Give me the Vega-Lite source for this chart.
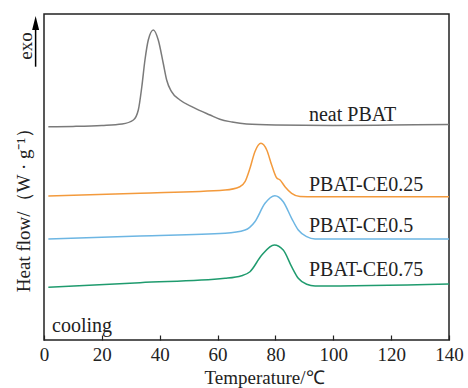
{
  "$schema": "https://vega.github.io/schema/vega-lite/v6.json",
  "width": 405,
  "height": 326,
  "autosize": "none",
  "padding": {"left": 44, "top": 14, "right": 19, "bottom": 48},
  "background": "white",
  "config": {
    "font": "Liberation Serif",
    "view": {"stroke": "#222", "strokeWidth": 1.5},
    "axis": {"grid": false, "labelFont": "Liberation Serif", "titleFont": "Liberation Serif", "labelColor": "#222", "titleColor": "#222", "titleFontWeight": "normal"}
  },
  "datasets": {
    "curves": [
      {"s": "neat PBAT", "t": 1.5, "v": 213.3},
      {"s": "neat PBAT", "t": 10, "v": 213.6},
      {"s": "neat PBAT", "t": 20, "v": 214.5},
      {"s": "neat PBAT", "t": 27, "v": 216},
      {"s": "neat PBAT", "t": 30.9, "v": 220},
      {"s": "neat PBAT", "t": 32.6, "v": 230},
      {"s": "neat PBAT", "t": 33.8, "v": 253},
      {"s": "neat PBAT", "t": 34.9, "v": 280},
      {"s": "neat PBAT", "t": 36.05, "v": 300},
      {"s": "neat PBAT", "t": 37.8, "v": 310},
      {"s": "neat PBAT", "t": 39.5, "v": 300},
      {"s": "neat PBAT", "t": 41.2, "v": 277},
      {"s": "neat PBAT", "t": 42.4, "v": 260},
      {"s": "neat PBAT", "t": 44.1, "v": 248.3},
      {"s": "neat PBAT", "t": 47, "v": 240},
      {"s": "neat PBAT", "t": 51.6, "v": 232.7},
      {"s": "neat PBAT", "t": 57.4, "v": 225},
      {"s": "neat PBAT", "t": 60.8, "v": 220.7},
      {"s": "neat PBAT", "t": 65, "v": 218},
      {"s": "neat PBAT", "t": 70, "v": 216},
      {"s": "neat PBAT", "t": 80, "v": 215},
      {"s": "neat PBAT", "t": 100, "v": 214.5},
      {"s": "neat PBAT", "t": 120, "v": 215},
      {"s": "neat PBAT", "t": 140, "v": 215.6},
      {"s": "PBAT-CE0.25", "t": 1.5, "v": 144},
      {"s": "PBAT-CE0.25", "t": 33.2, "v": 146.7},
      {"s": "PBAT-CE0.25", "t": 62.6, "v": 150},
      {"s": "PBAT-CE0.25", "t": 67.7, "v": 153.3},
      {"s": "PBAT-CE0.25", "t": 69.5, "v": 158.3},
      {"s": "PBAT-CE0.25", "t": 71.2, "v": 171.7},
      {"s": "PBAT-CE0.25", "t": 72.9, "v": 188.3},
      {"s": "PBAT-CE0.25", "t": 75.0, "v": 196.7},
      {"s": "PBAT-CE0.25", "t": 77.0, "v": 190},
      {"s": "PBAT-CE0.25", "t": 78.7, "v": 175},
      {"s": "PBAT-CE0.25", "t": 80.4, "v": 162.3},
      {"s": "PBAT-CE0.25", "t": 81.6, "v": 160},
      {"s": "PBAT-CE0.25", "t": 83.3, "v": 153.3},
      {"s": "PBAT-CE0.25", "t": 85.6, "v": 146.7},
      {"s": "PBAT-CE0.25", "t": 88.5, "v": 143.5},
      {"s": "PBAT-CE0.25", "t": 93.7, "v": 143.2},
      {"s": "PBAT-CE0.25", "t": 140, "v": 143.2},
      {"s": "PBAT-CE0.5", "t": 1.5, "v": 101},
      {"s": "PBAT-CE0.5", "t": 33.2, "v": 104},
      {"s": "PBAT-CE0.5", "t": 62.6, "v": 106.7},
      {"s": "PBAT-CE0.5", "t": 69.5, "v": 110},
      {"s": "PBAT-CE0.5", "t": 72.9, "v": 118.3},
      {"s": "PBAT-CE0.5", "t": 76.4, "v": 136.7},
      {"s": "PBAT-CE0.5", "t": 79.8, "v": 144.3},
      {"s": "PBAT-CE0.5", "t": 82.7, "v": 138.3},
      {"s": "PBAT-CE0.5", "t": 85.6, "v": 121.7},
      {"s": "PBAT-CE0.5", "t": 87.9, "v": 110},
      {"s": "PBAT-CE0.5", "t": 90.8, "v": 103.3},
      {"s": "PBAT-CE0.5", "t": 93.7, "v": 101},
      {"s": "PBAT-CE0.5", "t": 140, "v": 101},
      {"s": "PBAT-CE0.75", "t": 1.5, "v": 52.7},
      {"s": "PBAT-CE0.75", "t": 33.2, "v": 57.3},
      {"s": "PBAT-CE0.75", "t": 62.6, "v": 61.7},
      {"s": "PBAT-CE0.75", "t": 68.3, "v": 64.3},
      {"s": "PBAT-CE0.75", "t": 71.2, "v": 68.3},
      {"s": "PBAT-CE0.75", "t": 75.3, "v": 85},
      {"s": "PBAT-CE0.75", "t": 79.6, "v": 95},
      {"s": "PBAT-CE0.75", "t": 82.7, "v": 90},
      {"s": "PBAT-CE0.75", "t": 85.6, "v": 73.3},
      {"s": "PBAT-CE0.75", "t": 87.9, "v": 61.7},
      {"s": "PBAT-CE0.75", "t": 90.8, "v": 55.7},
      {"s": "PBAT-CE0.75", "t": 93.7, "v": 54},
      {"s": "PBAT-CE0.75", "t": 140, "v": 56}
    ],
    "labels": [
      {"label": "neat PBAT", "t": 91.6, "v": 219.3},
      {"label": "PBAT-CE0.25", "t": 91.6, "v": 149.3},
      {"label": "PBAT-CE0.5", "t": 91.6, "v": 108.3},
      {"label": "PBAT-CE0.75", "t": 91.6, "v": 64},
      {"label": "cooling", "t": 2.8, "v": 8.3}
    ],
    "arrow": [
      {"t": -2.9, "v": 273.3, "v2": 312}
    ],
    "head": [
      {"t": -2.9, "v": 317}
    ],
    "exo": [
      {"label": "exo", "t": -4.3, "v": 294}
    ]
  },
  "layer": [
    {
      "data": {"name": "curves"},
      "mark": {"type": "line", "interpolate": "monotone", "strokeWidth": 1.5},
      "encoding": {
        "x": {
          "field": "t", "type": "quantitative",
          "scale": {"domain": [0, 140], "nice": false},
          "axis": {
            "values": [0, 20, 40, 60, 80, 100, 120, 140],
            "title": "Temperature/℃",
            "domain": false,
            "tickSize": -5,
            "tickColor": "#222",
            "tickWidth": 1.2,
            "labelFontSize": 19,
            "labelPadding": 10,
            "labelFlush": false,
            "titleFontSize": 19,
            "titleX": 220,
            "titleY": 37,
            "titleBaseline": "middle"
          }
        },
        "y": {
          "field": "v", "type": "quantitative",
          "scale": {"domain": [0, 326], "nice": false},
          "axis": {
            "title": "Heat flow/（W · g⁻¹）",
            "labels": false,
            "ticks": false,
            "domain": false,
            "titleFontSize": 19,
            "titleAngle": 270,
            "titleX": -21,
            "titleY": 191,
            "titleBaseline": "middle",
            "titleAlign": "center"
          }
        },
        "color": {
          "field": "s", "type": "nominal",
          "scale": {"domain": ["neat PBAT", "PBAT-CE0.25", "PBAT-CE0.5", "PBAT-CE0.75"], "range": ["#7a7a7a", "#f39a3c", "#6db6e3", "#1f9b6e"]},
          "legend": null
        },
        "detail": {"field": "s"}
      }
    },
    {
      "data": {"name": "labels"},
      "mark": {"type": "text", "align": "left", "baseline": "alphabetic", "fontSize": 20, "color": "#222", "font": "Liberation Serif"},
      "encoding": {
        "x": {"field": "t", "type": "quantitative"},
        "y": {"field": "v", "type": "quantitative"},
        "text": {"field": "label"}
      }
    },
    {
      "data": {"name": "arrow"},
      "mark": {"type": "rule", "color": "#000", "strokeWidth": 1.5, "clip": false},
      "encoding": {
        "x": {"field": "t", "type": "quantitative"},
        "y": {"field": "v", "type": "quantitative"},
        "y2": {"field": "v2"}
      }
    },
    {
      "data": {"name": "head"},
      "mark": {"type": "point", "shape": "M-0.5,1L0,-1L0.5,1Z", "filled": true, "color": "#000", "opacity": 1, "size": 196, "clip": false},
      "encoding": {
        "x": {"field": "t", "type": "quantitative"},
        "y": {"field": "v", "type": "quantitative"}
      }
    },
    {
      "data": {"name": "exo"},
      "mark": {"type": "text", "angle": 270, "align": "center", "baseline": "alphabetic", "fontSize": 19, "color": "#222", "font": "Liberation Serif"},
      "encoding": {
        "x": {"field": "t", "type": "quantitative"},
        "y": {"field": "v", "type": "quantitative"},
        "text": {"field": "label"}
      }
    }
  ]
}
